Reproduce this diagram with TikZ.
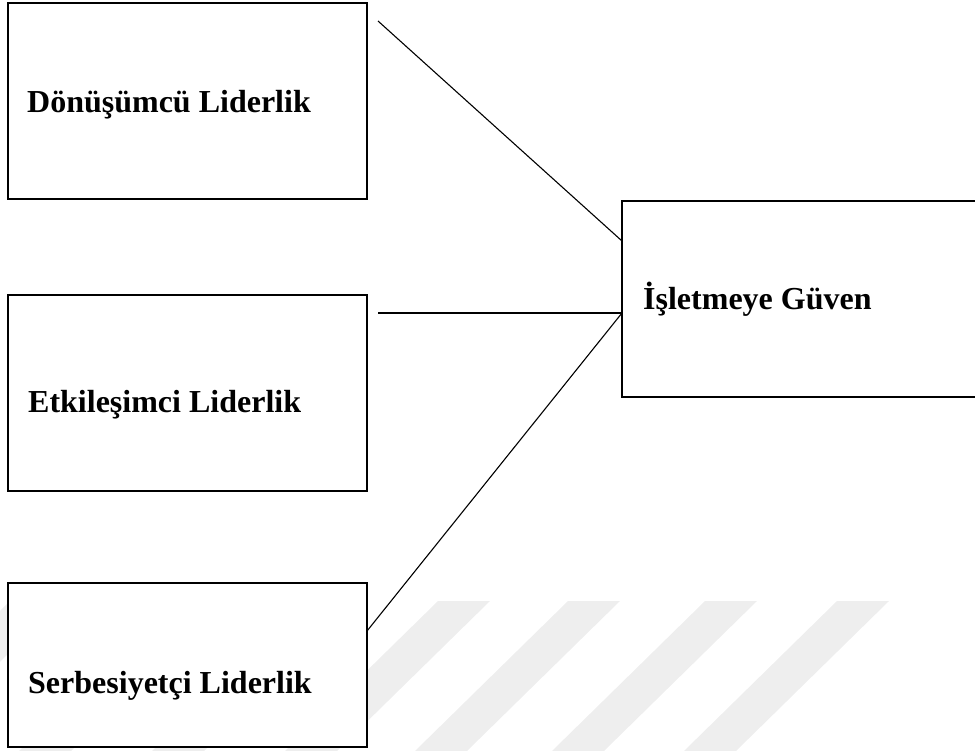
\documentclass[tikz,border=0pt]{standalone}
\usepackage{fontspec}
\setmainfont{Liberation Serif}
\usetikzlibrary{calc}
\definecolor{wmgray}{RGB}{238,238,238}
\begin{document}
\begin{tikzpicture}[x=1pt,y=-1pt,
  box/.style={draw=black,line width=1.6pt,fill=white,inner sep=0pt,outer sep=0pt},
  lbl/.style={anchor=base west,inner sep=0pt,font=\fontsize{32}{38}\selectfont\bfseries},
  conn/.style={draw=black,line width=1.1pt},
  wm/.style={fill=wmgray,draw=none}]
\useasboundingbox (0,0) rectangle (975,751);
\clip (0,0) rectangle (975,751);
% faint watermark stripes
\foreach \t in {10,172,305,438,568,705,837}{
  \path[wm] (\t,601) -- (\t+52,601) -- (\t+52-153,751) -- (\t-153,751) -- cycle;
}
% boxes
\node[box,minimum width=359pt,minimum height=196pt] (b1) at (187.5,101) {};
\node[box,minimum width=359pt,minimum height=196pt] (b2) at (187.5,393) {};
\node[box,minimum width=359pt,minimum height=164pt] (b3) at (187.5,665) {};
\node[box,minimum width=368pt,minimum height=196pt] (b4) at (806,299) {};
% labels
\node[lbl] (t1) at (27,113) {Dönüşümcü Liderlik};
\node[lbl] (t2) at (28,413) {Etkileşimci Liderlik};
\node[lbl] (t3) at (28,693) {Serbesiyetçi Liderlik};
\node[lbl] (t4) at (643,310) {İşletmeye Güven};
% connector ends
\coordinate (s1) at (378,21);
\coordinate (s2) at (378,313);
\coordinate (s3) at ($(b3.east)+(0,-34)$);
\coordinate (e1) at ($(b4.north west)+(0,40)$);
\coordinate (e2) at ($(b4.west)+(0,14)$);
\draw[conn] (s1) -- (e1);
\draw[conn] (s2) -- (e2);
\draw[conn] (s3) -- (e2);
\end{tikzpicture}
\end{document}
